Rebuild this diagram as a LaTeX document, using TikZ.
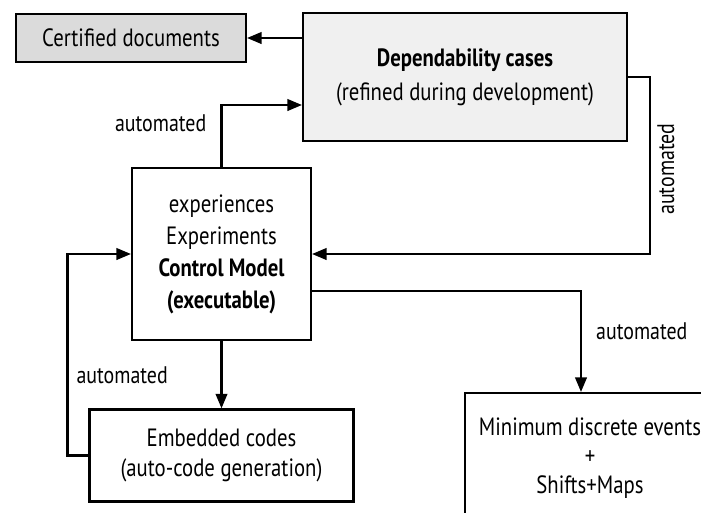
\documentclass[tikz,border=0pt]{standalone}
\usepackage{fontspec}
\setmainfont{PT Sans}[FakeStretch=0.83]
\usetikzlibrary{arrows,positioning}

\begin{document}
\begin{tikzpicture}[x=1pt, y=-1pt, >=triangle 45, line width=2.4pt, font=\fontsize{25}{30}\selectfont]
            \tikzstyle{block} = [draw, rectangle, align=center, inner sep=0pt]
            \tikzstyle{tag} = [font=\fontsize{24}{26}\selectfont, inner sep=2pt]

            \useasboundingbox (0,0) rectangle (701,512);

            \node [block, fill=gray!28, minimum width=230pt, minimum height=48pt] (certified) at (131,38) {Certified documents};
            \node [block, fill=gray!12, minimum width=324pt, minimum height=128pt, font=\fontsize{25}{34}\selectfont] (depcases) at (465,77) {\textbf{Dependability cases}\\(refined during development)};
            \node [block, minimum width=179pt, minimum height=172pt, font=\fontsize{25}{32}\selectfont] (model) at (221.5,254) {experiences\\Experiments\\\textbf{Control Model}\\\textbf{(executable)}};
            \node [block, below = 67pt of model, minimum width=264pt, minimum height=92pt] (embedded) {Embedded codes\\(auto-code generation)};
            \node [block, minimum width=250pt, minimum height=130pt, font=\fontsize{25}{29}\selectfont] (events) at (590,458) {Minimum discrete events\\+\\Shifts+Maps};
            \draw [->] (depcases.west |- certified.east) -- (certified.east);
            \draw [->] (model.north) |- node[tag, pos=0.35, left=12pt] {automated} ([yshift=-28pt]depcases.west);
            \draw [->] (depcases.east) -- ++(22,0) |- node[tag, pos=0.26, rotate=90, anchor=north, inner sep=6pt] {automated} (model.east);
            \draw [->] ([yshift=-37pt]model.east) -| node[tag, pos=0.7, right=12pt] {automated} ([xshift=-9pt]events.north);
            \draw [->] (model.south) -- (embedded.north);
            \draw [->] (embedded.west) -- ++(-21,0) |- node[tag, pos=0.2, right=6pt] {automated} (model.west);
\end{tikzpicture}
\end{document}
